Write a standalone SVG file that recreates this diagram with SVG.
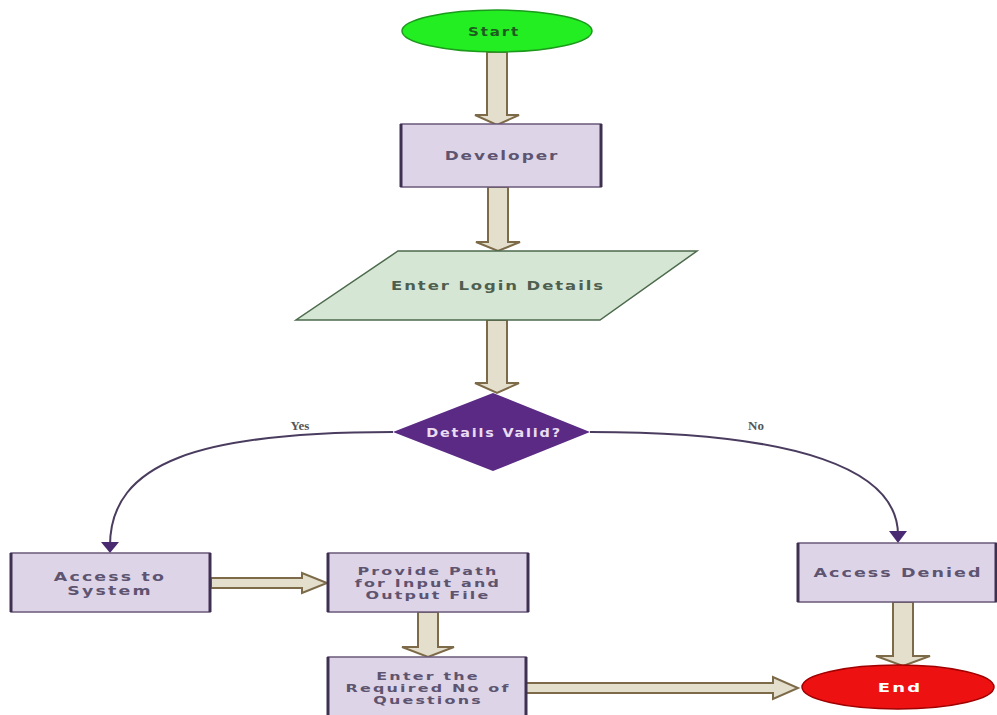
<svg xmlns="http://www.w3.org/2000/svg" width="997" height="715" viewBox="0 0 997 715">
  <defs>
    <style>
      .box { fill: #ddd4e8; stroke: #6a5a7a; stroke-width: 1.5; }
      .side { stroke: #3e3050; stroke-width: 3; }
      .lbl { font-family: "DejaVu Sans", Verdana, sans-serif; font-weight: bold; font-size: 13px; fill: #5e5470; text-anchor: middle; letter-spacing: 1.5px; }
      .small { font-size: 11px; letter-spacing: 1.5px; }
      .block { fill: #e4dfcc; stroke: #7d6a48; stroke-width: 2; stroke-linejoin: miter; }
      .curve { fill: none; stroke: #4a3c5e; stroke-width: 2; }
      .yn { font-family: "Liberation Serif", "Times New Roman", serif; font-weight: bold; font-size: 13px; fill: #555; text-anchor: middle; }
    </style>
  </defs>
  <rect width="997" height="715" fill="#ffffff"/>

  <!-- connectors -->
  <g id="connectors">
    <!-- block arrows (vertical) -->
    <path class="block" d="M487,52 V115 H475 L497,125 L519,115 H507 V52 Z"/>
    <path class="block" d="M488,187 V242 H476 L498,251 L520,242 H508 V187 Z"/>
    <path class="block" d="M487,320 V383 H475 L497,393 L519,383 H507 V320 Z"/>
    <path class="block" d="M418,612 V647 H402 L428,657 L454,647 H438 V612 Z"/>
    <path class="block" d="M893,602 V656 H876 L903,666 L930,656 H913 V602 Z"/>
    <!-- block arrows (horizontal) -->
    <path class="block" d="M211,578 H302 V573 L327,583 L302,593 V588 H211 Z"/>
    <path class="block" d="M526,683 H773 V677 L798,688 L773,699 V693 H526 Z"/>
    <!-- decision branches -->
    <path class="curve" d="M393,432 C200,432 110,462 110,546"/>
    <path d="M101,542 L119,542 L110,553 Z" fill="#4a2a70"/>
    <path class="curve" d="M590,432 C800,432 898,470 898,535"/>
    <path d="M889,531 L907,531 L898,543 Z" fill="#4a2a70"/>
    <text class="yn" x="300" y="430">Yes</text>
    <text class="yn" x="756" y="430">No</text>
  </g>

  <g id="start">
    <ellipse cx="497" cy="31" rx="95" ry="21" fill="#22ee22" stroke="#1c9a1c" stroke-width="1.5"/>
    <text transform="translate(494,35.5) scale(1.25,1)" font-family="DejaVu Sans, sans-serif" font-weight="bold" font-size="12" fill="#1f5a1f" text-anchor="middle" letter-spacing="1.5">Start</text>
  </g>

  <g id="developer">
    <rect class="box" x="401" y="124" width="200" height="63"/>
    <line class="side" x1="401" y1="124" x2="401" y2="187"/>
    <line class="side" x1="601" y1="124" x2="601" y2="187"/>
    <text class="lbl" transform="translate(502,160) scale(1.3,1)">Developer</text>
  </g>

  <g id="login">
    <polygon points="398,251 697,251 600,320 296,320" fill="#d6e6d4" stroke="#4c6a4c" stroke-width="1.5"/>
    <text class="lbl" transform="translate(498,290) scale(1.27,1)" style="fill:#4f5f4f">Enter Login Details</text>
  </g>

  <g id="decision">
    <polygon points="493,393 590,432 493,471 393,432" fill="#5a2a84"/>
    <text class="lbl" transform="translate(494,437) scale(1.2,1)" style="fill:#eadcf2;font-size:12px">Details Valid?</text>
  </g>

  <g id="access">
    <rect class="box" x="11" y="553" width="199" height="59"/>
    <line class="side" x1="11" y1="553" x2="11" y2="612"/>
    <line class="side" x1="210" y1="553" x2="210" y2="612"/>
    <text class="lbl" transform="translate(110,581) scale(1.45,1)" style="font-size:12px">Access to</text>
    <text class="lbl" transform="translate(110,595) scale(1.45,1)" style="font-size:12px">System</text>
  </g>

  <g id="provide">
    <rect class="box" x="328" y="553" width="200" height="59"/>
    <line class="side" x1="328" y1="553" x2="328" y2="612"/>
    <line class="side" x1="528" y1="553" x2="528" y2="612"/>
    <text class="lbl small" transform="translate(428,575) scale(1.45,1)">Provide Path</text>
    <text class="lbl small" transform="translate(428,587) scale(1.45,1)">for Input and</text>
    <text class="lbl small" transform="translate(428,599) scale(1.45,1)">Output File</text>
  </g>

  <g id="questions">
    <rect class="box" x="328" y="657" width="198" height="60"/>
    <line class="side" x1="328" y1="657" x2="328" y2="717"/>
    <line class="side" x1="526" y1="657" x2="526" y2="717"/>
    <text class="lbl small" transform="translate(428,680) scale(1.45,1)">Enter the</text>
    <text class="lbl small" transform="translate(428,692) scale(1.45,1)">Required No of</text>
    <text class="lbl small" transform="translate(428,704) scale(1.45,1)">Questions</text>
  </g>

  <g id="denied">
    <rect class="box" x="798" y="543" width="198" height="59"/>
    <line class="side" x1="798" y1="543" x2="798" y2="602"/>
    <line class="side" x1="996" y1="543" x2="996" y2="602"/>
    <text class="lbl" transform="translate(898,577) scale(1.35,1)">Access Denied</text>
  </g>

  <g id="end">
    <ellipse cx="898" cy="687" rx="96" ry="22" fill="#ee1111" stroke="#a00000" stroke-width="1.5"/>
    <text transform="translate(900,691.5) scale(1.5,1)" font-family="DejaVu Sans, sans-serif" font-weight="bold" font-size="12" fill="#ffffff" text-anchor="middle" letter-spacing="1.5">End</text>
  </g>
</svg>
